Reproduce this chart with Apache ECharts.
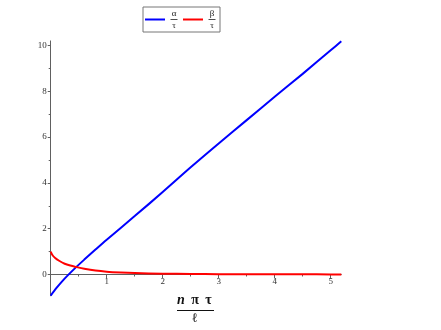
<!DOCTYPE html>
<html><head><meta charset="utf-8">
<script src="https://cdn.jsdelivr.net/npm/echarts@6/dist/echarts.min.js"></script>
<style>html,body{margin:0;padding:0;background:#fff}#c{width:441px;height:330px}</style>
</head><body><div id="c"></div>
<script>
// Data (x = nπτ/ℓ)
const alphaX = [0, 0.1, 0.2, 0.3, 0.45, 0.6, 0.8, 1, 1.5, 2, 2.5, 3, 3.5, 4, 4.5, 5, 5.19];
const alphaY = [-0.92, -0.6, -0.31, -0.05, 0.31, 0.65, 1.09, 1.52, 2.55, 3.6, 4.68, 5.72, 6.74, 7.76, 8.76, 9.79, 10.18];
const betaX = [0, 0.03, 0.08, 0.15, 0.25, 0.35, 0.45, 0.6, 0.8, 1, 1.25, 1.5, 2, 2.5, 3, 3.5, 4, 4.5, 5, 5.19];
const betaY = [1.0, 0.85, 0.72, 0.6, 0.47, 0.39, 0.33, 0.25, 0.17, 0.12, 0.085, 0.062, 0.037, 0.024, 0.016, 0.012, 0.009, 0.007, 0.005, 0.005];
const xMajorTicks = [1, 2, 3, 4, 5];
const xMinorTicks = [0.5, 1.5, 2.5, 3.5, 4.5];
const yMajorTicks = [0, 2, 4, 6, 8, 10];
const yMinorTicks = [1, 3, 5, 7, 9];
const seriesNames = ['α/τ', 'β/τ'];

const serif = "'Liberation Serif','DejaVu Serif',serif";
const axisColor = '#606060';
const chart = echarts.init(document.getElementById('c'));
const pairs = (xs, ys) => xs.map((x, i) => [x, ys[i]]);

// grid: y from -0.93 to 10.2 over 40.9..295.8 px => y=0 sits 21.3px above grid bottom
const xBase = {type: 'value', min: 0, max: 5.19, gridIndex: 0, splitLine: {show: false}, position: 'bottom', offset: -21.3};
const yBase = {type: 'value', min: -0.93, max: 10.2, gridIndex: 0, splitLine: {show: false}, position: 'left'};

chart.setOption({
  animation: false,
  backgroundColor: '#fff',
  grid: {left: 50.7, right: 99.7, top: 40.9, bottom: 34.2, containLabel: false},
  legend: {
    left: 143, top: 7, padding: [2, 4, 2, 2],
    itemWidth: 20, itemHeight: 2, itemGap: 5,
    borderColor: '#777', borderWidth: 1,
    icon: 'rect',
    data: seriesNames,
    formatter: function (name) {
      const parts = name.split('/');
      return '{n|' + parts[0] + '}\n{bar|}\n{d|' + parts[1] + '}';
    },
    textStyle: {
      fontFamily: serif, color: '#222',
      rich: {
        n: {fontSize: 9, lineHeight: 10, width: 8, align: 'center', fontFamily: serif},
        bar: {width: 7, height: 0.8, lineHeight: 2, backgroundColor: '#222', align: 'center'},
        d: {fontSize: 9, lineHeight: 10, width: 8, align: 'center', fontFamily: serif}
      }
    }
  },
  xAxis: [
    Object.assign({}, xBase, {
      axisLine: {onZero: false, lineStyle: {color: axisColor, width: 1}},
      axisTick: {length: 4, customValues: xMajorTicks, lineStyle: {color: axisColor}},
      axisLabel: {customValues: xMajorTicks, margin: 3, fontFamily: serif, fontSize: 9, color: '#333'}
    }),
    Object.assign({}, xBase, {
      axisLine: {show: false, onZero: false},
      axisTick: {length: 2, customValues: xMinorTicks, lineStyle: {color: axisColor}},
      axisLabel: {show: false}
    })
  ],
  yAxis: [
    Object.assign({}, yBase, {
      axisLine: {show: true, onZero: false, lineStyle: {color: axisColor, width: 1}},
      axisTick: {show: true, length: 3, customValues: yMajorTicks, lineStyle: {color: axisColor}},
      axisLabel: {customValues: yMajorTicks, margin: 4, fontFamily: serif, fontSize: 9, color: '#333'}
    }),
    Object.assign({}, yBase, {
      axisLine: {show: false, onZero: false},
      axisTick: {show: true, length: 2, customValues: yMinorTicks, lineStyle: {color: axisColor}},
      axisLabel: {show: false}
    })
  ],
  series: [
    {name: seriesNames[0], type: 'line', data: pairs(alphaX, alphaY), showSymbol: false, smooth: 0.3,
     color: '#0000ff', lineStyle: {color: '#0000ff', width: 2}},
    {name: seriesNames[1], type: 'line', data: pairs(betaX, betaY), showSymbol: false, smooth: 0.3,
     color: '#ff0000', lineStyle: {color: '#ff0000', width: 2}}
  ],
  graphic: [
    {type: 'text', x: 181, y: 300, style: {text: 'n', textAlign: 'center', textVerticalAlign: 'middle', fontFamily: serif, fontSize: 14, fontWeight: 'bold', fontStyle: 'italic', fill: '#111'}},
    {type: 'text', x: 195, y: 300, style: {text: 'π', textAlign: 'center', textVerticalAlign: 'middle', fontFamily: serif, fontSize: 14, fontWeight: 'bold', fill: '#111'}},
    {type: 'text', x: 208.5, y: 300, style: {text: 'τ', textAlign: 'center', textVerticalAlign: 'middle', fontFamily: serif, fontSize: 14, fontWeight: 'bold', fill: '#111'}},
    {type: 'line', shape: {x1: 177, y1: 310.5, x2: 214, y2: 310.5}, style: {stroke: '#111', lineWidth: 1}},
    {type: 'text', x: 195, y: 318.5, style: {text: 'ℓ', textAlign: 'center', textVerticalAlign: 'middle', fontFamily: serif, fontSize: 13, fontWeight: 'bold', fill: '#111'}}
  ]
});
</script></body></html>
